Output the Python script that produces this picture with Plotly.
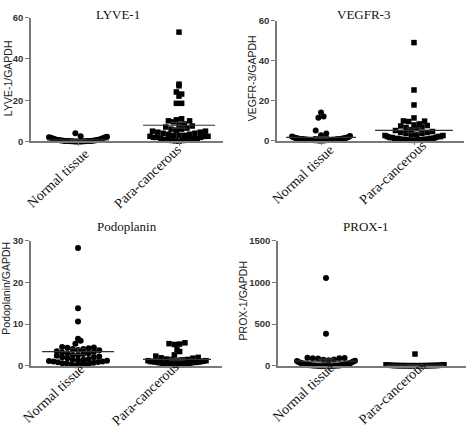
import numpy as np
import plotly.graph_objects as go

W, H = 472, 436

categories = ["Normal tissue", "Para-cancerous"]

lyve1_normal = [4.0, 2.6, 2.3, 2.1, 2.0, 1.8, 1.7, 1.5, 1.3, 1.2, 1.0, 0.9, 0.8, 0.7, 0.6, 0.6,
                0.5, 0.5, 0.4, 0.4, 0.3, 0.3, 0.3, 0.2, 0.2, 0.2, 0.15, 0.1, 0.1, 0.1, 0.05, 0.05,
                0.05, 0.05, 0.05]
lyve1_para = [53, 27.8, 27, 24, 23, 22, 18.5, 18.5, 11, 10.5, 10, 10, 9.5, 8.5, 8, 7.5, 7, 6.5,
              6, 6, 5.5, 5, 5, 4.5, 4.5, 4, 4, 3.5, 3.5, 3, 3, 3, 2.5, 2.5, 2.5, 2, 2, 2, 1.5,
              1.5, 1.5, 1, 1, 1, 0.8, 0.5, 0.5, 0.3, 0.2]

vegfr3_normal = [14, 12, 11.4, 5, 3.5, 2.6, 2.2, 2.0, 1.8, 1.6, 1.5, 1.4, 1.3, 1.2, 1.1, 1.0,
                 1.0, 0.9, 0.9, 0.8, 0.8, 0.7, 0.7, 0.6, 0.6, 0.5, 0.5, 0.5, 0.4, 0.4, 0.4, 0.3,
                 0.3, 0.3, 0.3, 0.2, 0.2, 0.2, 0.2, 0.1, 0.1, 0.1, 0.1, 0.1, 0.05, 0.05, 0.05, 0.05]
vegfr3_para = [49, 25.3, 17.8, 11.3, 9.8, 9.5, 9.7, 8.3, 7.8, 7.5, 7.3, 6.8, 6.5, 6, 5.5, 5,
               4.5, 4, 4, 3.5, 3.5, 3, 3, 2.5, 2.5, 2, 2, 2, 1.5, 1.5, 1.5, 1.2, 1, 1, 1, 0.8,
               0.8, 0.6, 0.5, 0.5, 0.5, 0.4, 0.3, 0.3, 0.2, 0.2, 0.1, 0.1]

podo_normal = [28.3, 13.8, 10.6, 6.5, 6.0, 5.3, 4.5, 4.4, 4.3, 4.2, 4.0, 4.0, 3.8, 3.7, 3.5, 3.3,
               3.2, 3.0, 3.0, 2.8, 2.6, 2.5, 2.4, 2.2, 2.0, 2.0, 1.8, 1.6, 1.5, 1.4, 1.3, 1.2,
               1.1, 1.0, 1.0, 0.9, 0.8, 0.7, 0.6, 0.5, 0.5, 0.4, 0.3, 0.2, 0.1]
podo_para = [5.5, 5.3, 5.2, 5.1, 3.9, 3.4, 2.6, 2.3, 2.0, 1.9, 1.8, 1.6, 1.5, 1.5, 1.4, 1.3, 1.2,
             1.2, 1.1, 1.0, 1.0, 1.0, 0.9, 0.9, 0.8, 0.8, 0.8, 0.7, 0.7, 0.6, 0.6, 0.5, 0.5,
             0.5, 0.4, 0.4, 0.3, 0.3, 0.2, 0.2, 0.1]

prox1_normal = [1055, 385, 95, 92, 90, 88, 85, 75, 70, 65, 60, 55, 50, 45, 40, 35, 30, 28, 25,
                22, 20, 18, 15, 12, 10, 10, 8, 6, 5, 4, 3, 2, 2, 1, 1, 1, 0.5, 0.5, 0.5, 0.3,
                0.3, 0.3, 0.3, 0.3, 0.3, 0.3, 0.3]
prox1_para = [140, 12, 10, 8, 6, 5, 5, 4, 4, 3, 3, 3, 2, 2, 2, 2, 1.5, 1.5, 1, 1, 1, 1, 0.8,
              0.8, 0.5, 0.5, 0.5, 0.3, 0.3, 0.2, 0.2, 0.1, 0.1, 0.1]

titles = ["LYVE-1", "VEGFR-3", "Podoplanin", "PROX-1"]
ytitles = ["LYVE-1/GAPDH", "VEGFR-3/GAPDH", "Podoplanin/GAPDH", "PROX-1/GAPDH"]
yticks = [[0, 20, 40, 60], [0, 20, 40, 60], [0, 10, 20, 30], [0, 500, 1000, 1500]]
groups = [(lyve1_normal, lyve1_para), (vegfr3_normal, vegfr3_para),
          (podo_normal, podo_para), (prox1_normal, prox1_para)]

# layout geometry in pixels
geom = [
    dict(x0=31, x1=223, c0=78, c1=179, yb=139, yt=12, title=(118, 9), ytit=(8, 74),
         lab=[(58, 177), (148, 175)], mw=(62, 72)),
    dict(x0=277, x1=464, c0=321, c1=414, yb=138, yt=15, title=(363, 9), ytit=(252, 74),
         lab=[(303, 173), (393, 171)], mw=(70, 78)),
    dict(x0=31, x1=222, c0=78, c1=177, yb=369, yt=241, title=(127, 226), ytit=(6, 290),
         lab=[(54, 398), (146, 398)], mw=(72, 68)),
    dict(x0=278, x1=466, c0=326, c1=415, yb=369, yt=241, title=(366, 226), ytit=(243, 302),
         lab=[(303, 396), (392, 396)], mw=(63, 58)),
]


def swarm(values, px_per_unit, unit_px, d=5.3, maxw=58):
    ypx = [v * px_per_unit for v in values]
    order = sorted(range(len(values)), key=lambda i: values[i])
    bins = {}
    for i in order:
        bins.setdefault(int(ypx[i] // d), []).append(i)
    offs = [0.0] * len(values)
    for b, idx in bins.items():
        k = len(idx)
        if k < 2:
            continue
        sp = min(d, maxw / (k - 1))
        slots = [(j - (k - 1) / 2) * sp for j in range(k)]
        sgn = 1 if b % 2 == 0 else -1
        slots.sort(key=lambda s: (abs(s), sgn * s))
        for s, i in zip(slots, idx):
            offs[i] = s / unit_px
    return offs


fig = go.Figure()
layout = dict(width=W, height=H, margin=dict(l=0, r=0, t=0, b=0),
              paper_bgcolor="white", plot_bgcolor="white", showlegend=False)
annotations = []
serif = "Liberation Serif, Times New Roman, serif"
sans = "Liberation Sans, Arial, sans-serif"

for p in range(4):
    g = geom[p]
    sfx = "" if p == 0 else str(p + 1)
    unit = g["c1"] - g["c0"]
    xr = [(g["x0"] - g["c0"]) / unit, (g["x1"] - g["c0"]) / unit]
    ymax = yticks[p][-1]
    px_per_unit = (g["yb"] - g["yt"]) / ymax
    for ci, vals in enumerate(groups[p]):
        offs = swarm(vals, px_per_unit, unit)
        xs = [ci + o for o in offs]
        sym = "circle" if ci == 0 else "square"
        fig.add_trace(go.Scatter(
            x=xs, y=vals, mode="markers", xaxis="x" + sfx, yaxis="y" + sfx,
            marker=dict(symbol=sym, size=6 if ci == 0 else 5.5, color="black",
                        line=dict(width=0)),
            cliponaxis=False, hoverinfo="skip"))
        arr = np.array(vals, dtype=float)
        mean = arr.mean()
        sem = arr.std(ddof=1) / np.sqrt(len(arr))
        # line-ew symbol spans 1.4 x marker size
        fig.add_trace(go.Scatter(
            x=[ci], y=[mean], mode="markers", xaxis="x" + sfx, yaxis="y" + sfx,
            marker=dict(symbol="line-ew", size=g["mw"][ci] / 1.4, color="#333",
                        line=dict(width=1.2, color="#333")),
            error_y=dict(type="data", array=[sem], color="#333", thickness=1.1, width=8),
            cliponaxis=False, hoverinfo="skip"))
        annotations.append(dict(
            text=categories[ci], x=g["lab"][ci][0] / W, y=1 - g["lab"][ci][1] / H,
            xref="paper", yref="paper", showarrow=False, xanchor="center",
            yanchor="middle", textangle=-43,
            font=dict(family=serif, size=14, color="#111")))

    layout["xaxis" + sfx] = dict(
        domain=[g["x0"] / W, g["x1"] / W], range=xr, anchor="y" + sfx,
        tickvals=[0, 1], showticklabels=False,
        showline=True, linecolor="#7a7a7a", linewidth=1.6, ticks="outside", ticklen=3,
        tickcolor="#7a7a7a", tickwidth=1.2, showgrid=False, zeroline=False, fixedrange=True)
    layout["yaxis" + sfx] = dict(
        domain=[1 - g["yb"] / H, 1 - g["yt"] / H], range=[0, ymax], anchor="x" + sfx,
        tickvals=yticks[p], showline=True, linecolor="#7a7a7a", linewidth=1.6,
        ticks="outside", ticklen=4, tickcolor="#7a7a7a", tickwidth=1.2,
        tickfont=dict(family=sans, size=9.5, color="#333", weight="bold"),
        showgrid=False, zeroline=False, fixedrange=True)
    annotations.append(dict(
        text=titles[p], x=g["title"][0] / W, y=1 - g["title"][1] / H, xref="paper",
        yref="paper", showarrow=False, xanchor="center", yanchor="middle",
        font=dict(family=serif, size=13, color="#111")))
    annotations.append(dict(
        text=ytitles[p], x=g["ytit"][0] / W, y=1 - g["ytit"][1] / H, xref="paper",
        yref="paper", showarrow=False, xanchor="center", yanchor="middle", textangle=-90,
        font=dict(family=sans, size=10.5, color="#222")))

layout["annotations"] = annotations
fig.update_layout(**layout)
fig.write_html("out.html", config={"displayModeBar": False},
               post_script="document.body.style.margin='0';"
                           "document.body.style.overflow='hidden';")
